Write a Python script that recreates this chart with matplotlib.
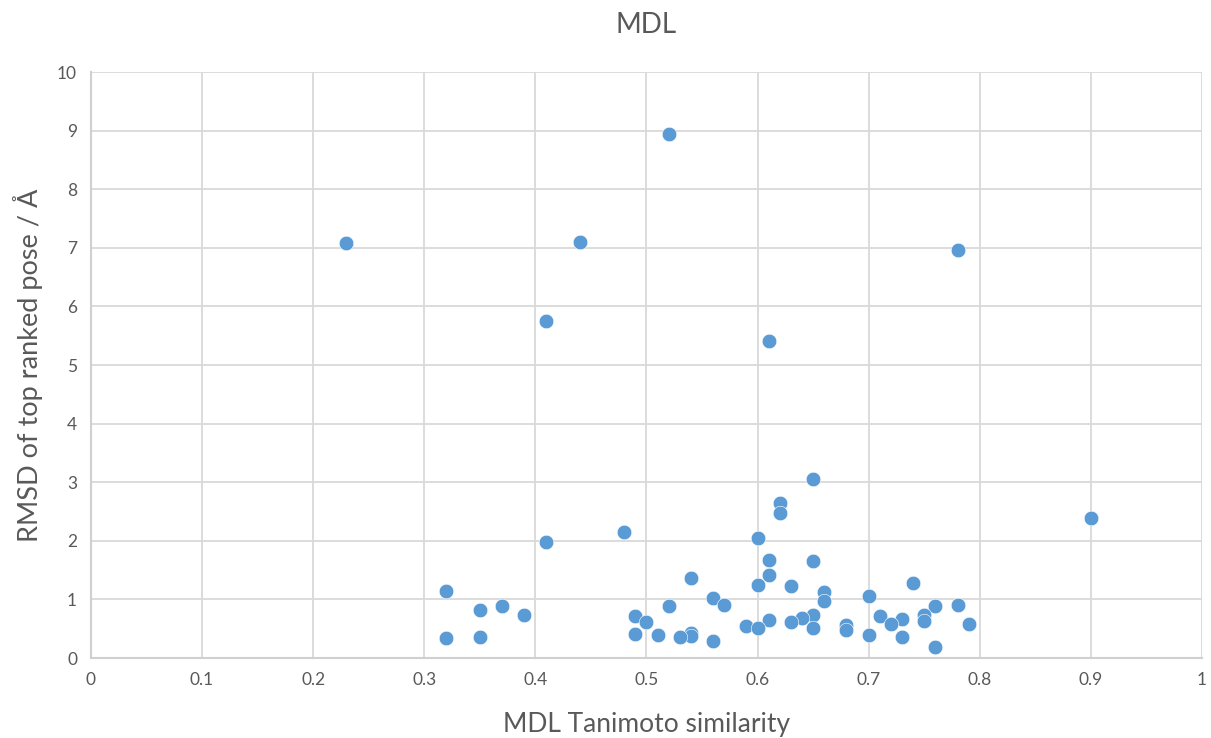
import numpy as np
import matplotlib.pyplot as plt

# MDL Tanimoto similarity vs RMSD of top ranked pose
tanimoto = [0.23, 0.52, 0.44, 0.78, 0.41, 0.61, 0.65, 0.90, 0.62, 0.62,
            0.48, 0.60, 0.41, 0.61, 0.65, 0.61, 0.54, 0.74, 0.60, 0.63,
            0.32, 0.66, 0.70, 0.56, 0.66, 0.57, 0.78, 0.37, 0.52, 0.76,
            0.35, 0.39, 0.65, 0.75, 0.49, 0.71, 0.64, 0.73, 0.61, 0.50,
            0.75, 0.63, 0.72, 0.79, 0.68, 0.59, 0.60, 0.65, 0.68, 0.49,
            0.51, 0.54, 0.70, 0.54, 0.53, 0.35, 0.32, 0.73, 0.56, 0.76]
rmsd = [7.08, 8.94, 7.10, 6.96, 5.75, 5.41, 3.05, 2.39, 2.65, 2.48,
        2.15, 2.05, 1.98, 1.67, 1.65, 1.42, 1.36, 1.28, 1.25, 1.23,
        1.14, 1.12, 1.05, 1.02, 0.98, 0.91, 0.91, 0.89, 0.89, 0.89,
        0.82, 0.73, 0.73, 0.74, 0.71, 0.72, 0.68, 0.67, 0.65, 0.62,
        0.63, 0.61, 0.58, 0.58, 0.56, 0.55, 0.51, 0.52, 0.48, 0.41,
        0.40, 0.42, 0.40, 0.38, 0.35, 0.36, 0.34, 0.36, 0.29, 0.19]

xticks = np.round(np.arange(0, 1.01, 0.1), 1)
yticks = np.arange(0, 11, 1)

plt.rcParams['font.family'] = ['Lato', 'DejaVu Sans']
txt = '#595959'

fig = plt.figure(figsize=(12.11, 7.38), dpi=100)
ax = fig.add_axes([0.0751, 0.1084, 0.9175, 0.794])

ax.scatter(tanimoto, rmsd, s=110, color='#5B9BD5', edgecolors='white',
           linewidths=0.4, zorder=3)

ax.set_xlim(0, 1)
ax.set_ylim(0, 10)
ax.set_xticks(xticks)
ax.set_xticklabels([f'{v:g}' for v in xticks])
ax.set_yticks(yticks)
ax.grid(True, color='#D9D9D9', linewidth=1.3)
ax.set_axisbelow(True)
for s in ['top', 'right']:
    ax.spines[s].set_visible(False)
for s in ['left', 'bottom']:
    ax.spines[s].set_color('#D0D0D0')
    ax.spines[s].set_linewidth(1.5)
ax.tick_params(length=0, labelsize=12.5, labelcolor=txt, pad=10)

ax.set_title('MDL', fontsize=20, color=txt, pad=28)
ax.set_xlabel('MDL Tanimoto similarity', fontsize=19, color=txt, labelpad=17)
ax.set_ylabel('RMSD of top ranked pose / Å', fontsize=19.5, color=txt, labelpad=10)

fig.savefig('out.png', dpi=100)
